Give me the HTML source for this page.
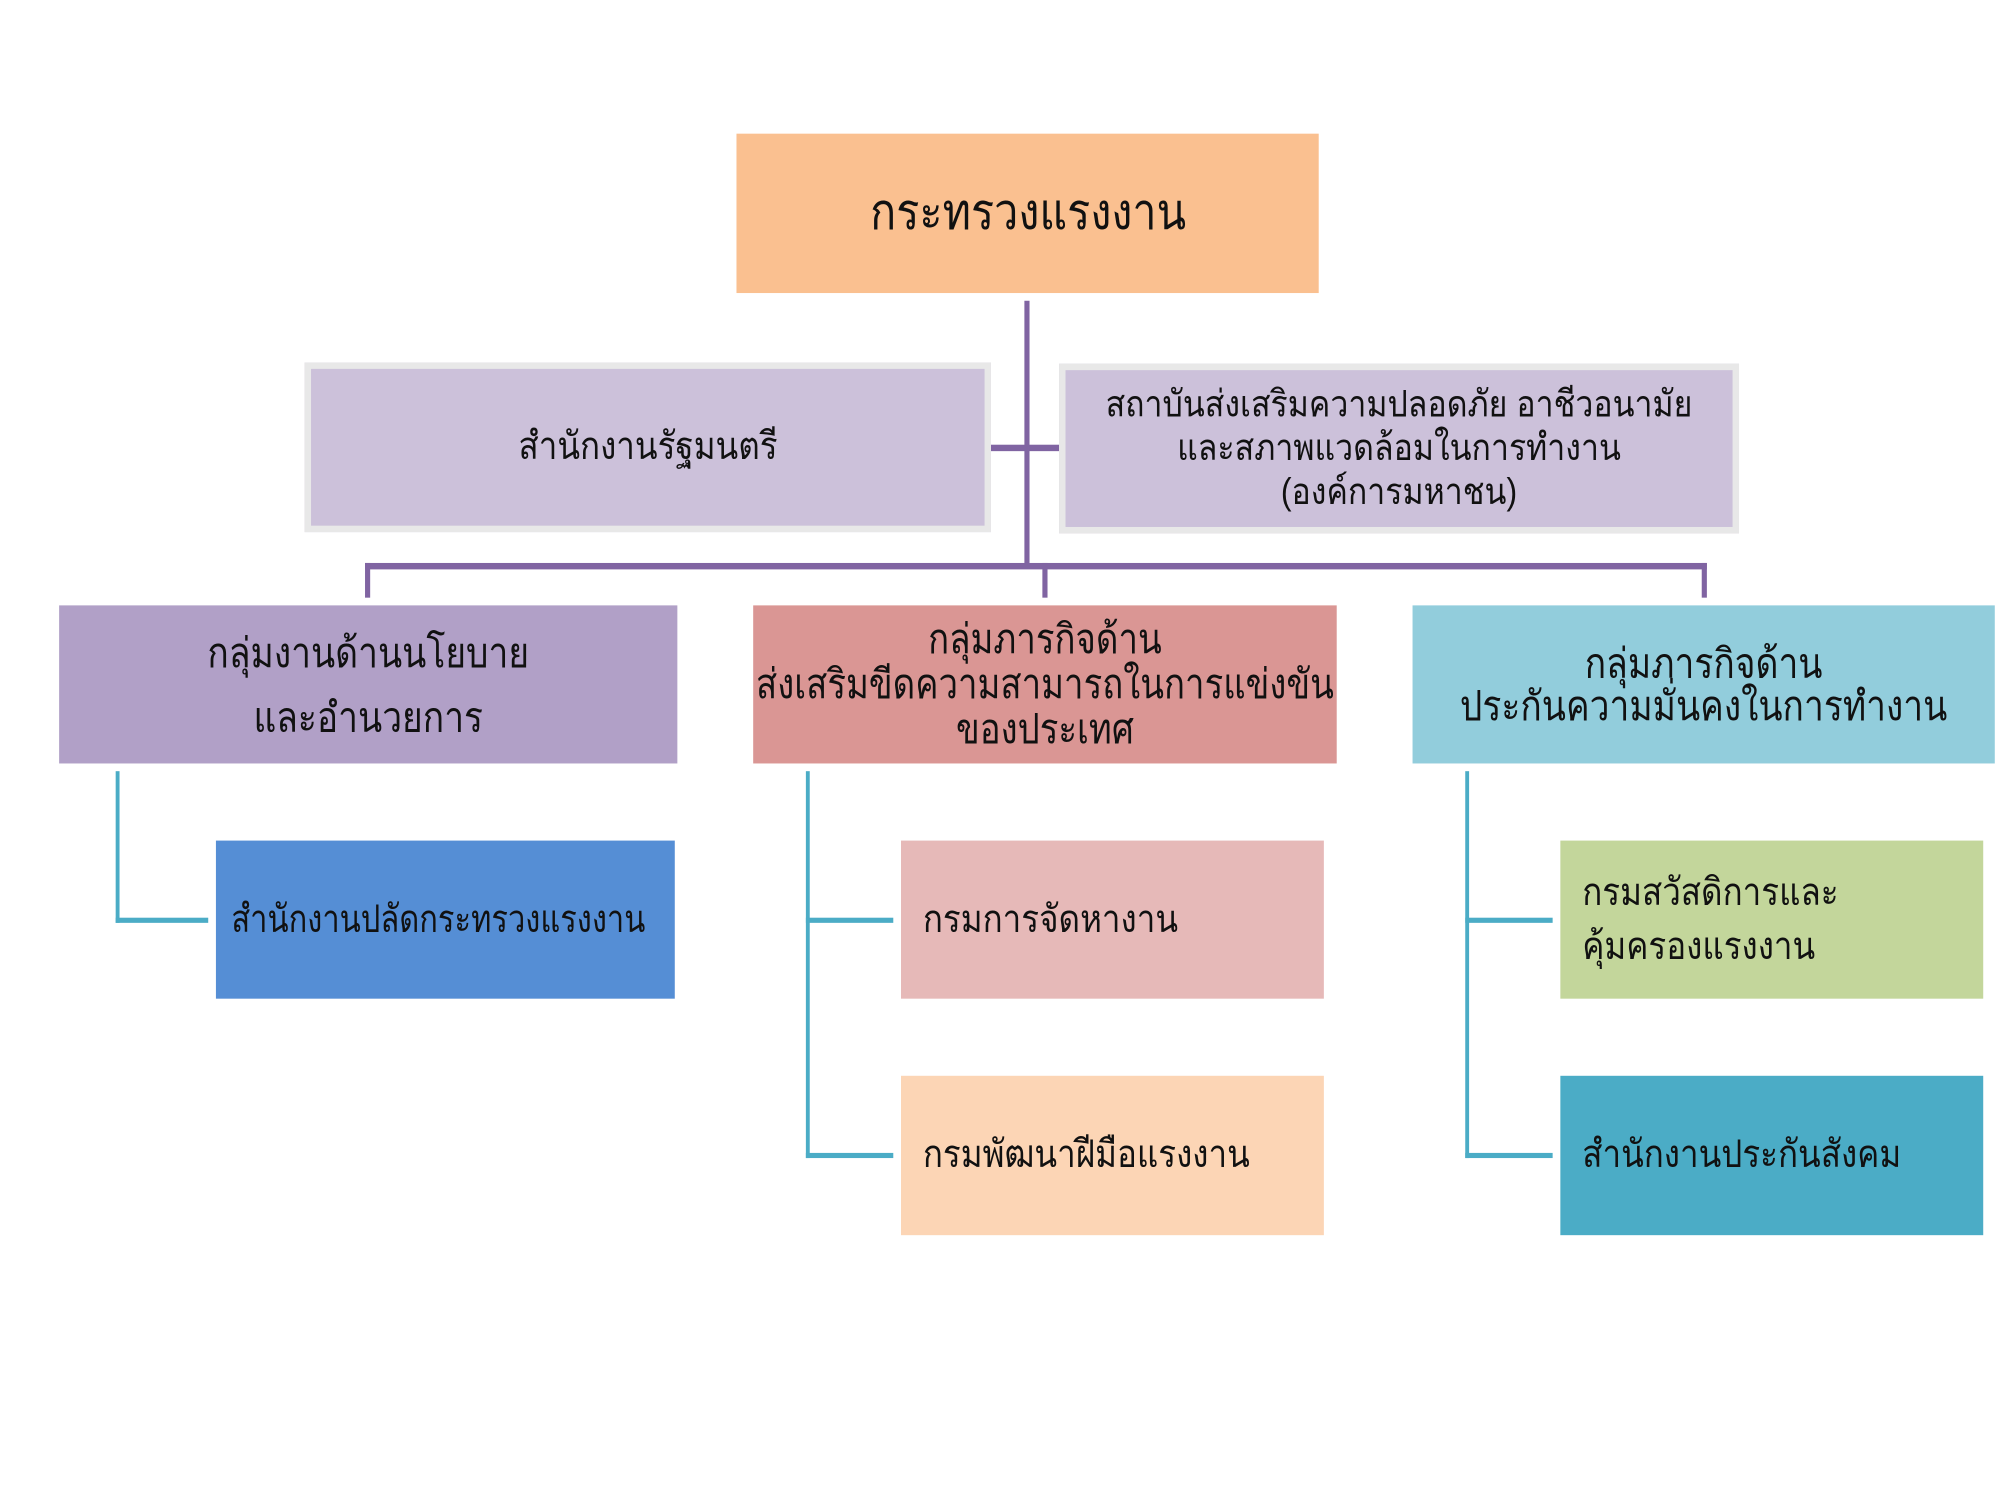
<!DOCTYPE html>
<html><head><meta charset="utf-8">
<style>
html,body{margin:0;padding:0;background:#fff;}
body{width:2000px;height:1500px;overflow:hidden;position:relative;}
#s{position:absolute;left:0;top:0;width:1556px;height:1168px;transform:scale(1.2853);transform-origin:0 0;}
.b{position:absolute;display:flex;align-items:center;justify-content:center;text-align:center;box-sizing:border-box;
font-family:"Liberation Sans","Noto Sans CJK SC",sans-serif;color:#111;line-height:1.25;}
.b span{display:inline-block;transform:scaleX(0.86);white-space:nowrap;}
.l{position:absolute;}
.p{background:#8064A2;}
.t{background:#4BACC6;}
</style></head><body><div id="s">
<div class="b" style="left:573px;top:104px;width:453px;height:124px;background:#FAC090;font-size:39px;"><span>กระทรวงแรงงาน</span></div>

<div class="l p" style="left:797px;top:234px;width:4px;height:208px;"></div>
<div class="l p" style="left:771px;top:346px;width:53px;height:5px;"></div>

<div class="b" style="left:237px;top:282px;width:534px;height:132px;background:#CCC1DA;border:5px solid #e8e8e8;font-size:30px;"><span>สำนักงานรัฐมนตรี</span></div>
<div class="b" style="left:824px;top:283px;width:529px;height:132px;background:#CCC1DA;border:5px solid #e8e8e8;font-size:29px;line-height:34px;"><span>สถาบันส่งเสริมความปลอดภัย อาชีวอนามัย<br>และสภาพแวดล้อมในการทำงาน<br>(องค์การมหาชน)</span></div>

<div class="l p" style="left:284px;top:438px;width:1044px;height:5px;"></div>
<div class="l p" style="left:284px;top:438px;width:4px;height:27px;"></div>
<div class="l p" style="left:811px;top:438px;width:4px;height:27px;"></div>
<div class="l p" style="left:1324px;top:438px;width:4px;height:27px;"></div>

<div class="b" style="left:46px;top:471px;width:481px;height:123px;background:#B1A0C7;font-size:32px;line-height:50px;"><span>กลุ่มงานด้านนโยบาย<br>และอำนวยการ</span></div>
<div class="b" style="left:586px;top:471px;width:454px;height:123px;background:#DA9694;font-size:32px;line-height:35px;"><span style="transform:scaleX(0.845)">กลุ่มภารกิจด้าน<br>ส่งเสริมขีดความสามารถในการแข่งขัน<br>ของประเทศ</span></div>
<div class="b" style="left:1099px;top:471px;width:453px;height:123px;background:#92CDDC;font-size:32px;line-height:33px;"><span>กลุ่มภารกิจด้าน<br>ประกันความมั่นคงในการทำงาน</span></div>

<div class="l t" style="left:90px;top:600px;width:3px;height:118px;"></div>
<div class="l t" style="left:90px;top:714px;width:72px;height:4px;"></div>
<div class="l t" style="left:627px;top:600px;width:3px;height:301px;"></div>
<div class="l t" style="left:627px;top:714px;width:68px;height:4px;"></div>
<div class="l t" style="left:627px;top:897px;width:68px;height:4px;"></div>
<div class="l t" style="left:1140px;top:600px;width:3px;height:301px;"></div>
<div class="l t" style="left:1140px;top:714px;width:68px;height:4px;"></div>
<div class="l t" style="left:1140px;top:897px;width:68px;height:4px;"></div>

<div class="b" style="left:168px;top:654px;width:357px;height:123px;background:#558ED5;font-size:30px;justify-content:flex-start;padding-left:12px;"><span style="transform-origin:0 50%;transform:scaleX(0.8)">สำนักงานปลัดกระทรวงแรงงาน</span></div>
<div class="b" style="left:701px;top:654px;width:329px;height:123px;background:#E6B9B8;font-size:30px;justify-content:flex-start;padding-left:17px;"><span style="transform-origin:0 50%">กรมการจัดหางาน</span></div>
<div class="b" style="left:701px;top:837px;width:329px;height:124px;background:#FCD5B5;font-size:30px;justify-content:flex-start;padding-left:17px;"><span style="transform-origin:0 50%">กรมพัฒนาฝีมือแรงงาน</span></div>
<div class="b" style="left:1214px;top:654px;width:329px;height:123px;background:#C3D69B;font-size:30px;justify-content:flex-start;padding-left:17px;text-align:left;line-height:42px;"><span style="transform-origin:0 50%">กรมสวัสดิการและ<br>คุ้มครองแรงงาน</span></div>
<div class="b" style="left:1214px;top:837px;width:329px;height:124px;background:#4BACC6;font-size:30px;justify-content:flex-start;padding-left:17px;"><span style="transform-origin:0 50%">สำนักงานประกันสังคม</span></div>
</div></body></html>
